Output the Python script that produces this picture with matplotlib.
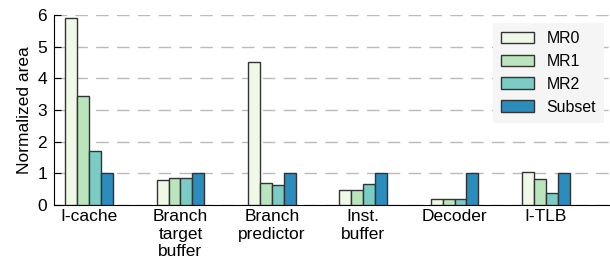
import numpy as np
import matplotlib
matplotlib.use('Agg')
import matplotlib.pyplot as plt

plt.rcParams['font.family'] = ['Liberation Sans', 'DejaVu Sans']

categories = ['I-cache', 'Branch\ntarget\nbuffer', 'Branch\npredictor', 'Inst.\nbuffer', 'Decoder', 'I-TLB']
series = ['MR0', 'MR1', 'MR2', 'Subset']
mr0 = [5.92, 0.78, 4.52, 0.47, 0.19, 1.05]
mr1 = [3.45, 0.84, 0.70, 0.47, 0.19, 0.82]
mr2 = [1.70, 0.84, 0.62, 0.65, 0.19, 0.38]
subset = [1.0, 1.0, 1.0, 1.0, 1.0, 1.0]
colors = ['#f0f9e8', '#bae4bc', '#7bccc4', '#2b8cbe']

fig = plt.figure(figsize=(6.1, 2.71), dpi=100)
ax = fig.add_axes([0.0885, 0.2435, 0.9115, 0.701])

x = np.arange(len(categories))
w = 0.13
for i, (vals, name) in enumerate(zip([mr0, mr1, mr2, subset], series)):
    ax.bar(x + (i - 1.5) * w, vals, w, color=colors[i], edgecolor='#333333',
           linewidth=1, label=name, zorder=3)

ax.set_xlim(-0.383, 5.70)
ax.set_ylim(0, 6)
ax.set_yticks(range(7))
ax.set_xticks(x)
ax.set_xticklabels(categories, fontsize=12.5, linespacing=1.2)
ax.tick_params(axis='y', labelsize=12.5, length=5, direction='in', pad=5)
ax.tick_params(axis='x', length=0, pad=3)
ax.set_ylabel('Normalized area', fontsize=12.5, labelpad=4)
ax.yaxis.grid(True, linestyle=(0, (9, 6)), color='#bbbbbb', linewidth=1, zorder=0)
ax.spines['top'].set_visible(False)
ax.spines['right'].set_visible(False)

leg = ax.legend(loc='upper right', bbox_to_anchor=(0.989, 0.958), borderaxespad=0,
                fontsize=11.4, frameon=True, fancybox=False, handlelength=2.1,
                handleheight=0.75, labelspacing=0.5, borderpad=0.5, handletextpad=0.8)
leg.get_frame().set_facecolor('#f5f5f5')
leg.get_frame().set_edgecolor('none')
leg.get_frame().set_alpha(1)

fig.savefig('out.png', dpi=100)
